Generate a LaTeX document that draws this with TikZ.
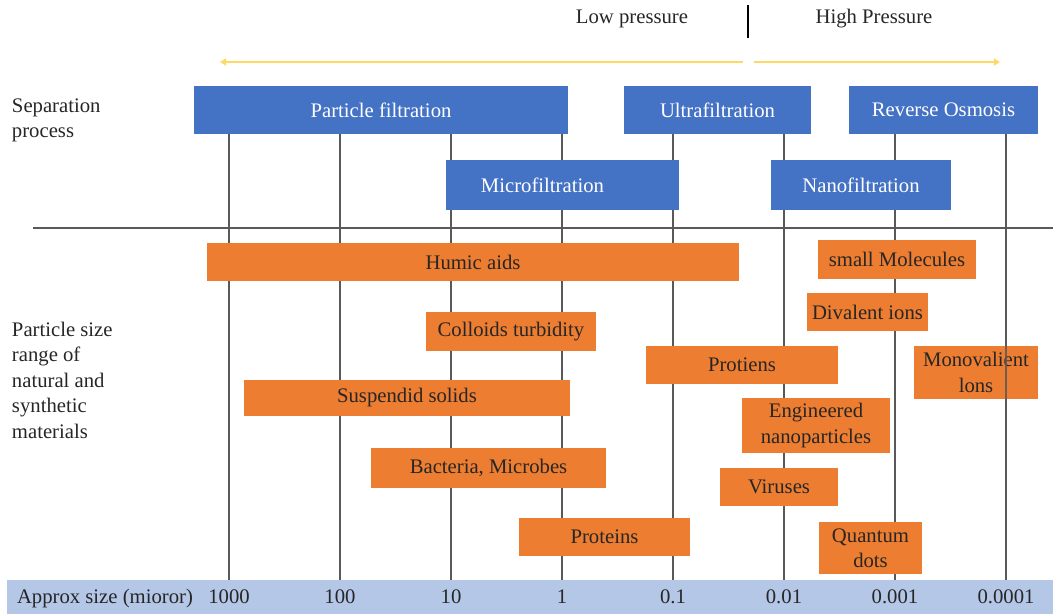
\documentclass[tikz,border=0pt]{standalone}
\usepackage{fontspec}
\setmainfont{Liberation Serif}
\usetikzlibrary{arrows.meta}
\definecolor{bboxc}{HTML}{4472C4}
\definecolor{oboxc}{HTML}{ED7D31}
\definecolor{bandc}{HTML}{B4C7E7}
\definecolor{yelc}{HTML}{FFD966}
\definecolor{gridc}{HTML}{595959}
\definecolor{txtc}{HTML}{262626}
\begin{document}
\begin{tikzpicture}[x=1pt,y=-1pt,
  every node/.style={font=\fontsize{20.7}{25.5}\selectfont, inner sep=0pt, outer sep=0pt},
  procbox/.style={fill=bboxc, text=white},
  partbox/.style={fill=oboxc, text=txtc, align=center},
  gridline/.style={draw=gridc, line width=1.8pt},
  lbl/.style={text=txtc, align=left, anchor=base west},
  tick/.style={text=txtc, anchor=base},
  presarrow/.style={draw=yelc, line width=1.6pt, -{Triangle[width=7pt,length=6pt]}},
]
\useasboundingbox (0,0) rectangle (1053,614);

% bottom band
\node[fill=bandc, minimum width=1046pt, minimum height=34pt] (band) at (530,597) {};
\node[lbl] (axlbl) at (17,603) {Approx size (mioror)};
\node[tick] (n1) at (229,603) {1000};
\node[tick] (n2) at (340,603) {100};
\node[tick] (n3) at (451,603) {10};
\node[tick] (n4) at (562,603) {1};
\node[tick] (n5) at (673,603) {0.1};
\node[tick] (n6) at (784,603) {0.01};
\node[tick] (n7) at (895,603) {0.001};
\node[tick] (n8) at (1006,603) {0.0001};

% grid lines
\foreach \i/\x in {1/229,2/340,3/451,4/562,5/673,6/784,7/895,8/1006}{
  \coordinate (g\i) at (\x,110);
  \draw[gridline] (g\i) -- (g\i |- band.north);
}

% horizontal separator
\coordinate (hl) at (33,228);
\coordinate (hr) at (1053,228);
\draw[gridline] (hl) -- (hr);

% pressure header
\node[tick] (low) at (632,23) {Low pressure};
\node[tick] (high) at (874,23) {High Pressure};
\coordinate (dvt) at (748,5);
\coordinate (dvb) at (748,38);
\draw[black, line width=1.2pt] (dvt) -- (dvb);
\coordinate (yl1) at (743,62);
\coordinate (yl2) at (220,62);
\coordinate (yr1) at (754,62);
\coordinate (yr2) at (1000,62);
\draw[presarrow] (yl1) -- (yl2);
\draw[presarrow] (yr1) -- (yr2);

% left labels (anchor = baseline of last line)
\node[lbl] (seplbl) at (12,137.5) {Separation\\process};
\node[lbl] (partlbl) at (12,438) {Particle size\\range of\\natural and\\synthetic\\materials};

% separation processes
\node[procbox, minimum width=374pt, minimum height=48pt] (pf) at (381,110) {Particle filtration};
\node[procbox, minimum width=187pt, minimum height=48pt] (uf) at (717.5,110) {Ultrafiltration};
\node[procbox, minimum width=189pt, minimum height=48pt] (ro) at (943.5,110) {Reverse Osmosis};
\node[procbox, minimum width=233pt, minimum height=50pt] (mf) at (562.5,185) {Microfiltration\hspace*{40pt}};
\node[procbox, minimum width=180pt, minimum height=50pt] (nf) at (861,185) {Nanofiltration};

% particles
\node[partbox, minimum width=532pt, minimum height=38pt] (humic) at (473,262) {Humic aids};
\node[partbox, minimum width=158pt, minimum height=39pt] (smol) at (897,259.5) {small Molecules};
\node[partbox, minimum width=121pt, minimum height=38pt] (dival) at (867.5,312) {Divalent ions};
\node[partbox, minimum width=170pt, minimum height=39pt] (coll) at (511,331.5) {Colloids turbidity};
\node[partbox, minimum width=192pt, minimum height=38pt] (prot1) at (742,365) {Protiens};
\node[partbox, minimum width=124pt, minimum height=53pt] (mono) at (976,372.5) {Monovalient\\lons};
\draw[gridline, draw opacity=0.85] (g8 |- mono.north) -- (g8 |- mono.south);
\node[partbox, minimum width=326pt, minimum height=36pt] (susp) at (407,398) {Suspendid solids};
\node[partbox, minimum width=148pt, minimum height=55pt] (eng) at (816,425.5) {Engineered\\nanoparticles};
\node[partbox, minimum width=235pt, minimum height=40pt] (bact) at (488.5,468) {Bacteria, Microbes};
\node[partbox, minimum width=118pt, minimum height=38pt] (vir) at (779,487) {Viruses};
\node[partbox, minimum width=171pt, minimum height=38pt] (prot2) at (604.5,537) {Proteins};
\node[partbox, minimum width=103pt, minimum height=52pt] (qd) at (870.5,548) {Quantum\\dots};
\end{tikzpicture}
\end{document}
